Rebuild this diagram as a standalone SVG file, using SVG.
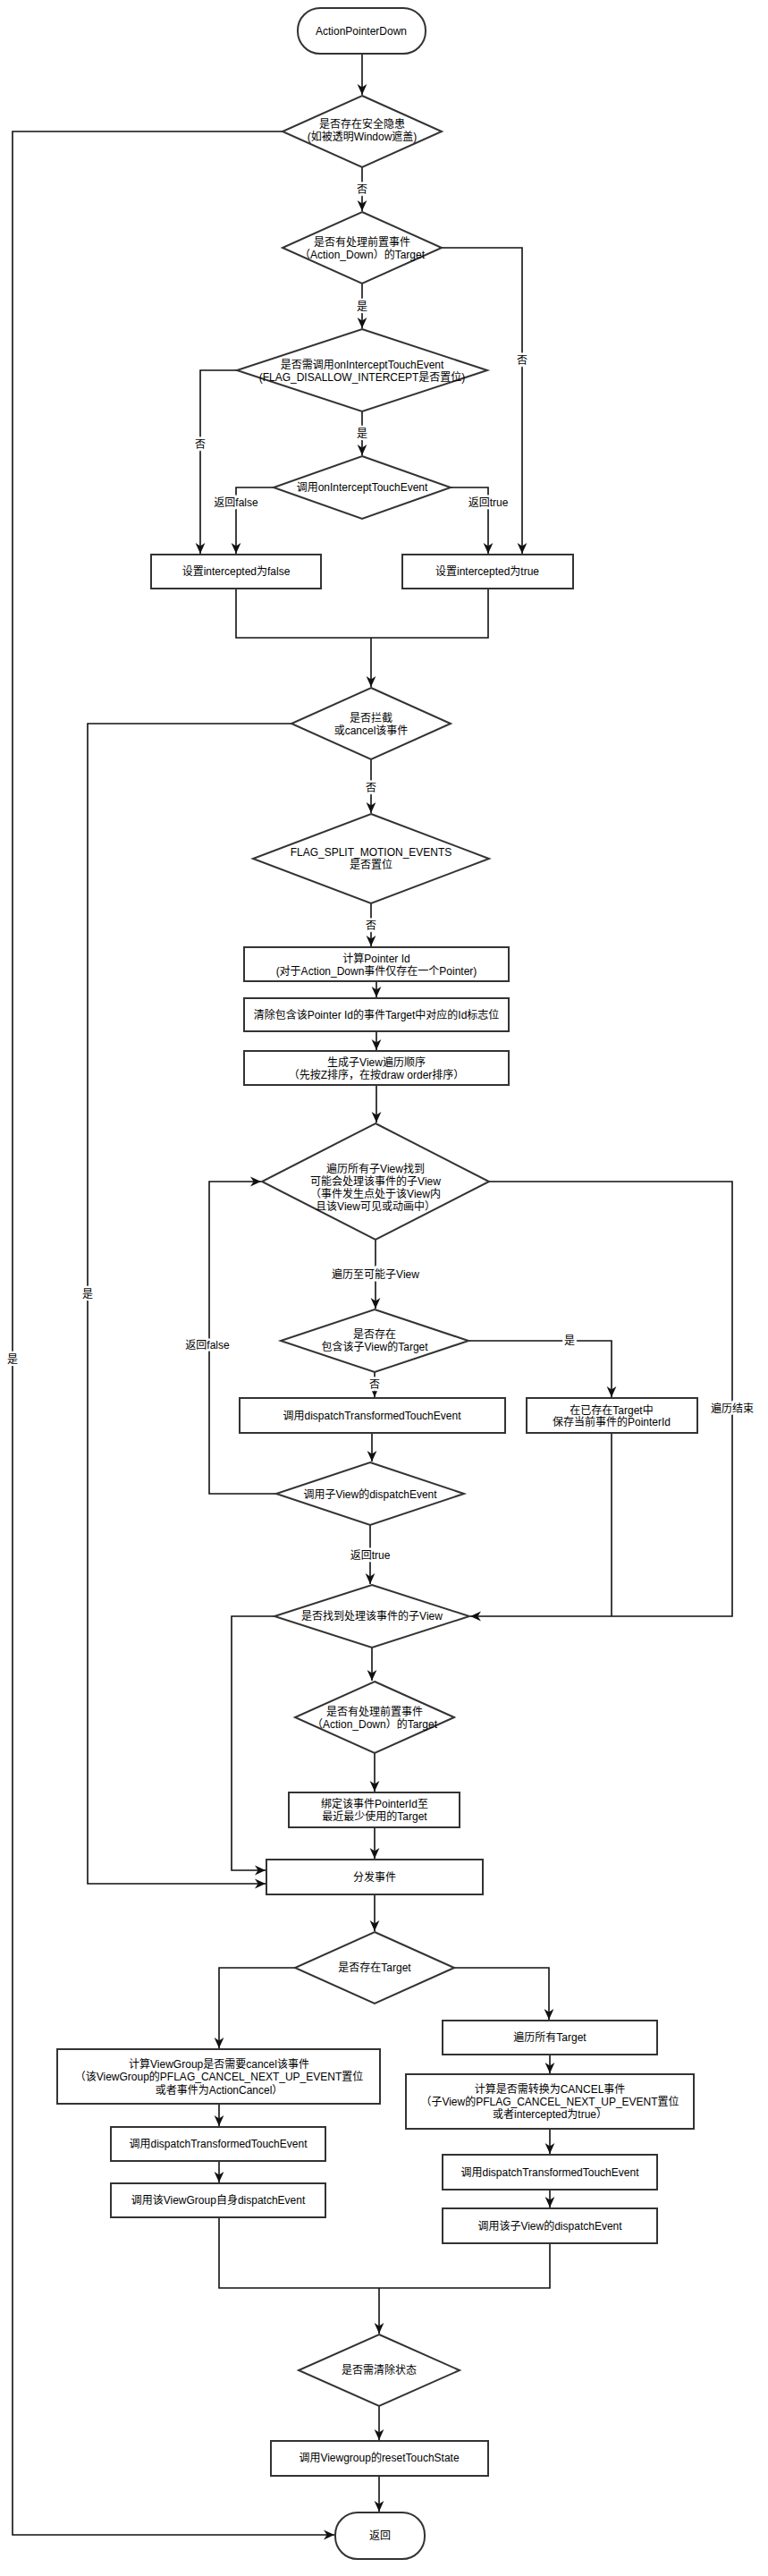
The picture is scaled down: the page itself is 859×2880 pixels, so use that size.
<svg xmlns="http://www.w3.org/2000/svg" width="859" height="2880" viewBox="0 0 859 2880">
<defs>
<style>
.s{fill:#fff;stroke:#333;stroke-width:2}
.t{font-family:"Liberation Sans","Noto Sans CJK SC",sans-serif;font-size:12px;fill:#000;text-anchor:middle;dominant-baseline:central}
.l{fill:none;stroke:#111;stroke-width:1.6}
.lb{font-family:"Liberation Sans","Noto Sans CJK SC",sans-serif;font-size:12px;fill:#000;text-anchor:middle;dominant-baseline:central;stroke:#fff;stroke-width:5;paint-order:stroke}
</style>
<marker id="a" markerUnits="userSpaceOnUse" markerWidth="12" markerHeight="12" viewBox="0 0 10 10" refX="10" refY="5" orient="auto">
<path d="M0,0.5 L10,5 L0,9.5 L3,5 z" fill="#111"/>
</marker>
</defs>
<rect width="859" height="2880" fill="#fff"/>

<g id="connectors">
<path class="l" d="M405,60 V106" marker-end="url(#a)"/>
<path class="l" d="M316,147 H14 V2834 H374" marker-end="url(#a)"/>
<path class="l" d="M405,187 V236" marker-end="url(#a)"/>
<path class="l" d="M494,277 H584 V619" marker-end="url(#a)"/>
<path class="l" d="M405,317 V367" marker-end="url(#a)"/>
<path class="l" d="M265,414 H224 V619" marker-end="url(#a)"/>
<path class="l" d="M405,460 V509" marker-end="url(#a)"/>
<path class="l" d="M306,545 H264 V619" marker-end="url(#a)"/>
<path class="l" d="M504,545 H546 V619" marker-end="url(#a)"/>
<path class="l" d="M264,658 V713 H546 V658"/>
<path class="l" d="M415,713 V768" marker-end="url(#a)"/>
<path class="l" d="M326,809 H98 V2106 H297" marker-end="url(#a)"/>
<path class="l" d="M415,849 V909" marker-end="url(#a)"/>
<path class="l" d="M415,1010 V1058" marker-end="url(#a)"/>
<path class="l" d="M421,1097 V1115" marker-end="url(#a)"/>
<path class="l" d="M421,1153 V1174" marker-end="url(#a)"/>
<path class="l" d="M421,1213 V1255" marker-end="url(#a)"/>
<path class="l" d="M547,1321 H819 V1807 H526" marker-end="url(#a)"/>
<path class="l" d="M420,1386 V1463" marker-end="url(#a)"/>
<path class="l" d="M524,1499 H684 V1562" marker-end="url(#a)"/>
<path class="l" d="M419,1534 V1562" marker-end="url(#a)"/>
<path class="l" d="M416,1602 V1634" marker-end="url(#a)"/>
<path class="l" d="M309,1670 H234 V1321 H292" marker-end="url(#a)"/>
<path class="l" d="M414,1705 V1771" marker-end="url(#a)"/>
<path class="l" d="M684,1602 V1807"/>
<path class="l" d="M307,1807 H259 V2091 H297" marker-end="url(#a)"/>
<path class="l" d="M416,1842 V1879" marker-end="url(#a)"/>
<path class="l" d="M419,1960 V2003" marker-end="url(#a)"/>
<path class="l" d="M419,2043 V2078" marker-end="url(#a)"/>
<path class="l" d="M419,2118 V2159" marker-end="url(#a)"/>
<path class="l" d="M330,2200 H245 V2290" marker-end="url(#a)"/>
<path class="l" d="M508,2200 H614 V2258" marker-end="url(#a)"/>
<path class="l" d="M615,2297 V2318" marker-end="url(#a)"/>
<path class="l" d="M245,2352 V2377" marker-end="url(#a)"/>
<path class="l" d="M245,2416 V2440" marker-end="url(#a)"/>
<path class="l" d="M615,2380 V2408" marker-end="url(#a)"/>
<path class="l" d="M615,2448 V2468" marker-end="url(#a)"/>
<path class="l" d="M245,2479 V2558 H615 V2508"/>
<path class="l" d="M424,2558 V2609" marker-end="url(#a)"/>
<path class="l" d="M424,2690 V2728" marker-end="url(#a)"/>
<path class="l" d="M424,2768 V2808" marker-end="url(#a)"/>
<text class="lb" x="14" y="1520">是</text>
<text class="lb" x="405" y="212">否</text>
<text class="lb" x="584" y="403">否</text>
<text class="lb" x="405" y="343">是</text>
<text class="lb" x="224" y="497">否</text>
<text class="lb" x="405" y="485">是</text>
<text class="lb" x="264" y="562">返回false</text>
<text class="lb" x="546" y="562">返回true</text>
<text class="lb" x="98" y="1447">是</text>
<text class="lb" x="415" y="881">否</text>
<text class="lb" x="415" y="1035">否</text>
<text class="lb" x="819" y="1575">遍历结束</text>
<text class="lb" x="420" y="1425">遍历至可能子View</text>
<text class="lb" x="637" y="1499">是</text>
<text class="lb" x="419" y="1548">否</text>
<text class="lb" x="232" y="1504">返回false</text>
<text class="lb" x="414" y="1739">返回true</text>
</g>

<g id="start"><rect class="s" x="333" y="9" width="143" height="51" rx="25"/><text class="t" x="404" y="35">ActionPointerDown</text></g>
<g id="d1"><polygon class="s" points="405,107 494,147 405,187 316,147"/><text class="t" x="405" y="139">是否存在安全隐患</text><text class="t" x="405" y="153">(如被透明Window遮盖)</text></g>
<g id="d2"><polygon class="s" points="405,237 494,277 405,317 316,277"/><text class="t" x="405" y="271">是否有处理前置事件</text><text class="t" x="405" y="285">（Action_Down）的Target</text></g>
<g id="d3"><polygon class="s" points="405,368 545,414 405,460 265,414"/><text class="t" x="405" y="408">是否需调用onInterceptTouchEvent</text><text class="t" x="405" y="422">(FLAG_DISALLOW_INTERCEPT是否置位)</text></g>
<g id="d4"><polygon class="s" points="405,510 504,545 405,580 306,545"/><text class="t" x="405" y="545">调用onInterceptTouchEvent</text></g>
<g id="bf"><rect class="s" x="169" y="620" width="190" height="38"/><text class="t" x="264" y="639">设置intercepted为false</text></g>
<g id="bt"><rect class="s" x="450" y="620" width="191" height="38"/><text class="t" x="545" y="639">设置intercepted为true</text></g>
<g id="d5"><polygon class="s" points="415,769 504,809 415,849 326,809"/><text class="t" x="415" y="803">是否拦截</text><text class="t" x="415" y="817">或cancel该事件</text></g>
<g id="d6"><polygon class="s" points="415,910 547,960 415,1010 283,960"/><text class="t" x="415" y="953">FLAG_SPLIT_MOTION_EVENTS</text><text class="t" x="415" y="967">是否置位</text></g>
<g id="p1"><rect class="s" x="273" y="1059" width="296" height="38"/><text class="t" x="421" y="1072">计算Pointer Id</text><text class="t" x="421" y="1086">(对于Action_Down事件仅存在一个Pointer)</text></g>
<g id="p2"><rect class="s" x="273" y="1116" width="296" height="37"/><text class="t" x="421" y="1135">清除包含该Pointer Id的事件Target中对应的Id标志位</text></g>
<g id="p3"><rect class="s" x="273" y="1175" width="296" height="38"/><text class="t" x="421" y="1188">生成子View遍历顺序</text><text class="t" x="421" y="1202">（先按Z排序，在按draw order排序）</text></g>
<g id="d7"><polygon class="s" points="420,1256 547,1321 420,1386 293,1321"/><text class="t" x="420" y="1307">遍历所有子View找到</text><text class="t" x="420" y="1321">可能会处理该事件的子View</text><text class="t" x="420" y="1335">（事件发生点处于该View内</text><text class="t" x="420" y="1349">且该View可见或动画中）</text></g>
<g id="d8"><polygon class="s" points="419,1464 524,1499 419,1534 314,1499"/><text class="t" x="419" y="1492">是否存在</text><text class="t" x="419" y="1506">包含该子View的Target</text></g>
<g id="b1"><rect class="s" x="268" y="1563" width="297" height="39"/><text class="t" x="416" y="1583">调用dispatchTransformedTouchEvent</text></g>
<g id="b2"><rect class="s" x="589" y="1563" width="191" height="39"/><text class="t" x="684" y="1577">在已存在Target中</text><text class="t" x="684" y="1590">保存当前事件的PointerId</text></g>
<g id="d10"><polygon class="s" points="414,1635 519,1670 414,1705 309,1670"/><text class="t" x="414" y="1671">调用子View的dispatchEvent</text></g>
<g id="d9"><polygon class="s" points="416,1772 525,1807 416,1842 307,1807"/><text class="t" x="416" y="1807">是否找到处理该事件的子View</text></g>
<g id="d11"><polygon class="s" points="419,1880 508,1920 419,1960 330,1920"/><text class="t" x="419" y="1914">是否有处理前置事件</text><text class="t" x="419" y="1928">（Action_Down）的Target</text></g>
<g id="b3"><rect class="s" x="323" y="2004" width="191" height="39"/><text class="t" x="419" y="2017">绑定该事件PointerId至</text><text class="t" x="419" y="2031">最近最少使用的Target</text></g>
<g id="dispatch"><rect class="s" x="298" y="2079" width="242" height="39"/><text class="t" x="419" y="2099">分发事件</text></g>
<g id="d12"><polygon class="s" points="419,2160 508,2200 419,2240 330,2200"/><text class="t" x="419" y="2200">是否存在Target</text></g>
<g id="l1"><rect class="s" x="64" y="2291" width="361" height="61"/><text class="t" x="245" y="2308">计算ViewGroup是否需要cancel该事件</text><text class="t" x="245" y="2322">（该ViewGroup的PFLAG_CANCEL_NEXT_UP_EVENT置位</text><text class="t" x="245" y="2337">或者事件为ActionCancel）</text></g>
<g id="l2"><rect class="s" x="124" y="2378" width="240" height="38"/><text class="t" x="244" y="2397">调用dispatchTransformedTouchEvent</text></g>
<g id="l3"><rect class="s" x="124" y="2441" width="240" height="38"/><text class="t" x="244" y="2460">调用该ViewGroup自身dispatchEvent</text></g>
<g id="r1"><rect class="s" x="495" y="2259" width="240" height="38"/><text class="t" x="615" y="2278">遍历所有Target</text></g>
<g id="r2"><rect class="s" x="454" y="2319" width="322" height="61"/><text class="t" x="615" y="2336">计算是否需转换为CANCEL事件</text><text class="t" x="615" y="2350">（子View的PFLAG_CANCEL_NEXT_UP_EVENT置位</text><text class="t" x="615" y="2364">或者intercepted为true）</text></g>
<g id="r3"><rect class="s" x="495" y="2409" width="240" height="39"/><text class="t" x="615" y="2429">调用dispatchTransformedTouchEvent</text></g>
<g id="r4"><rect class="s" x="495" y="2469" width="240" height="39"/><text class="t" x="615" y="2489">调用该子View的dispatchEvent</text></g>
<g id="d13"><polygon class="s" points="424,2610 514,2650 424,2690 334,2650"/><text class="t" x="424" y="2650">是否需清除状态</text></g>
<g id="reset"><rect class="s" x="303" y="2729" width="243" height="39"/><text class="t" x="424" y="2748">调用Viewgroup的resetTouchState</text></g>
<g id="end"><rect class="s" x="375" y="2809" width="100" height="52" rx="25"/><text class="t" x="425" y="2835">返回</text></g>
</svg>
